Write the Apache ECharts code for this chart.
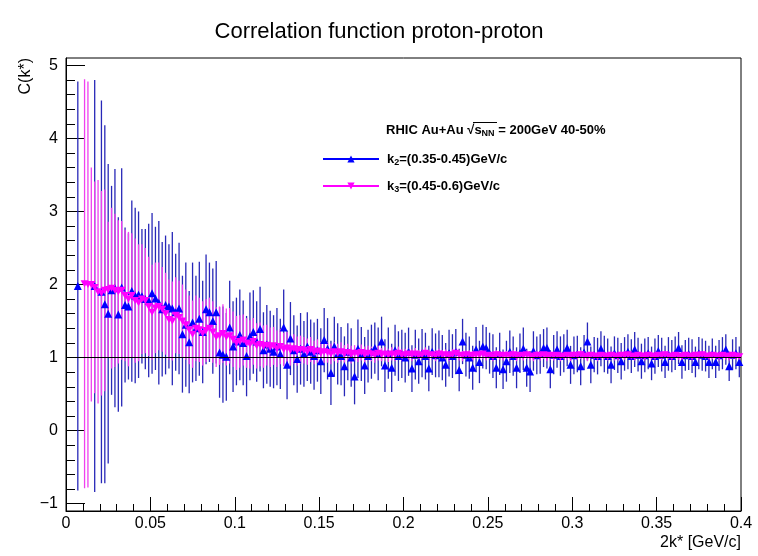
<!DOCTYPE html>
<html><head><meta charset="utf-8">
<script src="https://cdn.jsdelivr.net/npm/echarts@6/dist/echarts.min.js"></script>
<style>html,body{margin:0;padding:0;background:#fff}#c{width:758px;height:556px}</style>
</head><body><div id="c"></div>
<script>
// Histogram binning: 200 bins of width 0.002 from 0 to 0.4
const binWidth = 0.002;
const nBins = 200;

// k2 = (0.35-0.45) GeV/c : bin contents (null = empty bin)
const k2Val = [
  null,null,null,1.98,null,null,null,null,1.98,null,
  1.90,1.73,1.60,1.92,1.95,1.59,1.96,1.72,1.70,1.91,
  1.85,1.86,1.84,1.80,1.78,1.88,1.81,1.75,1.66,1.72,
  1.70,1.67,1.62,1.67,1.32,1.45,1.21,1.48,1.40,1.53,
  1.35,1.66,1.62,1.50,1.62,1.07,1.04,1.01,1.41,1.15,
  1.22,1.31,1.20,1.02,1.29,1.35,1.22,1.39,1.10,1.18,
  1.12,1.08,1.15,1.05,1.41,0.90,1.26,1.10,0.98,1.12,
  1.05,1.15,1.08,1.02,1.10,0.95,1.24,1.12,0.79,1.15,
  1.05,1.02,0.88,1.08,1.00,0.74,1.12,1.05,0.89,1.02,
  1.08,1.13,1.05,1.22,0.89,1.06,0.86,1.10,1.02,1.05,
  1.00,1.08,0.85,1.04,0.95,1.06,1.02,0.85,1.08,1.03,
  1.05,1.00,0.90,1.06,1.02,1.08,0.83,1.22,1.04,1.00,
  0.86,1.11,0.94,1.15,1.13,1.06,1.02,0.86,1.05,0.84,
  0.95,1.08,1.02,0.86,1.06,1.12,0.86,0.81,1.09,1.03,
  1.05,1.13,1.13,0.84,1.04,1.11,1.02,1.06,1.13,0.90,
  1.03,1.05,0.88,1.07,1.22,0.90,1.04,1.02,1.12,1.05,
  1.02,0.90,1.06,1.03,0.95,1.05,1.08,1.02,1.11,1.04,
  0.95,1.03,1.06,0.92,1.02,1.09,1.04,0.94,1.05,1.02,
  1.06,1.13,0.94,1.03,1.05,1.02,0.94,1.06,1.04,1.02,
  0.94,1.05,0.94,1.03,1.06,1.11,0.88,1.04,1.06,0.94
];
const k2Err = [
  null,null,null,2.80,null,null,null,null,2.82,null,
  2.62,2.45,2.05,1.43,1.63,1.33,1.63,1.06,1.00,1.24,
  1.20,1.14,0.92,0.96,1.05,1.10,0.98,1.12,0.92,0.95,
  0.85,1.05,0.80,0.90,0.80,0.85,0.70,0.82,0.72,0.78,
  0.70,0.75,0.68,0.72,0.70,0.62,0.66,0.60,0.64,0.62,
  0.60,0.62,0.58,0.55,0.60,0.57,0.55,0.58,0.52,0.54,
  0.52,0.50,0.53,0.48,0.52,0.47,0.50,0.48,0.46,0.49,
  0.45,0.47,0.44,0.46,0.43,0.45,0.44,0.42,0.44,0.41,
  0.42,0.40,0.41,0.39,0.40,0.38,0.40,0.37,0.39,0.36,
  0.37,0.35,0.36,0.34,0.36,0.35,0.33,0.35,0.34,0.33,
  0.34,0.33,0.32,0.34,0.31,0.33,0.32,0.31,0.32,0.30,
  0.32,0.31,0.30,0.32,0.30,0.31,0.29,0.31,0.30,0.29,
  0.30,0.31,0.29,0.30,0.29,0.28,0.30,0.28,0.29,0.27,
  0.28,0.29,0.27,0.28,0.27,0.29,0.26,0.28,0.27,0.26,
  0.27,0.26,0.28,0.26,0.27,0.25,0.27,0.26,0.25,0.26,
  0.26,0.25,0.26,0.24,0.26,0.25,0.24,0.25,0.24,0.25,
  0.24,0.25,0.23,0.24,0.25,0.23,0.24,0.23,0.24,0.23,
  0.24,0.23,0.22,0.23,0.24,0.22,0.23,0.22,0.23,0.22,
  0.23,0.22,0.23,0.21,0.22,0.23,0.21,0.22,0.22,0.21,
  0.22,0.21,0.22,0.21,0.22,0.21,0.20,0.21,0.22,0.21
];

// k3 = (0.45-0.6) GeV/c
const k3Val = [
  null,null,null,null,null,2.01,2.00,2.00,1.96,1.90,
  1.88,1.92,1.93,1.95,1.92,1.90,1.92,1.85,1.80,1.85,
  1.78,1.75,1.80,1.78,1.70,1.62,1.68,1.70,1.66,1.60,
  1.52,1.50,1.58,1.55,1.50,1.45,1.38,1.32,1.40,1.38,
  1.33,1.37,1.40,1.35,1.28,1.30,1.33,1.28,1.30,1.25,
  1.20,1.22,1.24,1.20,1.18,1.22,1.16,1.18,1.15,1.17,
  1.14,1.16,1.12,1.15,1.11,1.13,1.10,1.12,1.09,1.11,
  1.10,1.08,1.11,1.07,1.09,1.06,1.08,1.07,1.05,1.08,
  1.06,1.08,1.05,1.07,1.04,1.06,1.05,1.07,1.04,1.06,
  1.05,1.03,1.06,1.04,1.05,1.03,1.05,1.04,1.06,1.03,
  1.04,1.05,1.03,1.05,1.02,1.04,1.06,1.03,1.04,1.02,
  1.05,1.03,1.04,1.02,1.04,1.06,1.03,1.02,1.04,1.03,
  1.02,1.04,1.03,1.05,1.02,1.03,1.01,1.04,1.03,1.02,
  1.03,1.02,1.04,1.01,1.03,1.02,1.04,1.02,1.01,1.03,
  1.02,1.04,1.01,1.03,1.02,1.03,1.01,1.02,1.03,1.01,
  1.03,1.02,1.04,1.02,1.01,1.03,1.02,1.01,1.03,1.02,
  1.01,1.03,1.02,1.01,1.03,1.02,1.04,1.02,1.01,1.03,
  1.02,1.01,1.03,1.02,1.01,1.03,1.02,1.04,1.02,1.01,
  1.03,1.02,1.01,1.03,1.02,1.01,1.03,1.02,1.04,1.02,
  1.01,1.03,1.02,1.01,1.03,1.02,1.01,1.03,1.02,1.01
];
const k3Err = [
  null,null,null,null,null,2.80,2.78,1.60,1.45,1.53,
  1.40,1.38,0.93,1.10,1.05,0.98,0.95,0.90,0.92,0.85,
  0.85,0.80,0.75,0.72,0.68,0.65,0.62,0.60,0.58,0.56,
  0.55,0.54,0.52,0.50,0.50,0.48,0.47,0.46,0.45,0.44,
  0.44,0.43,0.42,0.42,0.41,0.40,0.40,0.39,0.38,0.38,
  0.37,0.36,0.35,0.34,0.33,0.32,0.31,0.30,0.29,0.28,
  0.27,0.26,0.25,0.24,0.23,0.22,0.21,0.20,0.20,0.19,
  0.18,0.18,0.17,0.16,0.16,0.15,0.15,0.14,0.14,0.13,
  0.13,0.13,0.12,0.12,0.12,0.11,0.11,0.11,0.11,0.10,
  0.10,0.10,0.10,0.09,0.09,0.09,0.09,0.09,0.09,0.08,
  0.08,0.08,0.08,0.08,0.08,0.07,0.08,0.07,0.07,0.07,
  0.07,0.07,0.07,0.07,0.07,0.07,0.07,0.07,0.06,0.07,
  0.07,0.06,0.06,0.07,0.06,0.06,0.06,0.06,0.06,0.06,
  0.06,0.06,0.06,0.06,0.06,0.06,0.06,0.06,0.06,0.06,
  0.06,0.06,0.06,0.06,0.06,0.06,0.06,0.05,0.06,0.06,
  0.06,0.05,0.06,0.05,0.06,0.05,0.05,0.06,0.05,0.05,
  0.05,0.05,0.06,0.05,0.05,0.05,0.05,0.05,0.05,0.05,
  0.05,0.05,0.05,0.05,0.05,0.05,0.05,0.05,0.05,0.05,
  0.05,0.05,0.05,0.05,0.05,0.05,0.05,0.05,0.05,0.05,
  0.05,0.05,0.05,0.05,0.05,0.05,0.05,0.05,0.05,0.05
];

// Axis ticks
const xTickStep = 0.05;
const yMajorTicks = [-1, 0, 1, 2, 3, 4, 5];
const yMinorTicks = [-0.8,-0.6,-0.4,-0.2,0.2,0.4,0.6,0.8,1.2,1.4,1.6,1.8,2.2,2.4,2.6,2.8,
                     3.2,3.4,3.6,3.8,4.2,4.4,4.6,4.8];

const titleText = 'Correlation function proton-proton';
const legendNames = ['k2', 'k3'];

function buildData(vals, errs) {
  const out = [];
  for (let i = 0; i < nBins; i++) {
    if (vals[i] === null) continue;
    out.push([(i + 0.5) * binWidth, vals[i], errs[i]]);
  }
  return out;
}
const k2Data = buildData(k2Val, k2Err);
const k3Data = buildData(k3Val, k3Err);

function barRenderer(color) {
  return function (params, api) {
    const x = api.value(0), y = api.value(1), e = api.value(2);
    const p1 = api.coord([x, y + e]);
    const p2 = api.coord([x, y - e]);
    return {
      type: 'line',
      shape: { x1: p1[0], y1: p1[1], x2: p2[0], y2: p2[1] },
      style: { stroke: color, lineWidth: 1.3 }
    };
  };
}

const FONT = 'Liberation Sans, Arial, Helvetica, sans-serif';
const BLUE = '#0000ff', BLUE_BAR = '#2828b8';
const PINK = '#ff00ff', PINK_BAR = '#f040f0';
const DOWN_TRI = 'path://M0 0L10 0L5 9Z';

const richStyles = {
  b: { fontFamily: FONT, fontWeight: 'bold', fontSize: 13, color: '#000', lineHeight: 16 },
  s: { fontFamily: FONT, fontWeight: 'bold', fontSize: 9, color: '#000', lineHeight: 9, verticalAlign: 'bottom', padding: [6, 0, 0, 0] },
  g: { width: 3 }
};

const chart = echarts.init(document.getElementById('c'), null, { renderer: 'canvas' });
chart.setOption({
  animation: false,
  backgroundColor: '#fff',
  title: {
    text: titleText, left: 374, top: 16, textAlign: 'center',
    textStyle: { fontFamily: FONT, fontSize: 22, fontWeight: 'normal', color: '#000' }
  },
  grid: { left: 66, right: 17, top: 58, bottom: 45, show: true, borderColor: '#000', borderWidth: 1, backgroundColor: 'transparent' },
  xAxis: {
    type: 'value', min: 0, max: 0.4, interval: xTickStep,
    axisLine: { show: true, onZero: false, lineStyle: { color: '#000', width: 1 } },
    axisTick: { show: true, inside: true, length: 14, lineStyle: { color: '#000' } },
    minorTick: { show: true, splitNumber: 5, length: 7, lineStyle: { color: '#000' } },
    splitLine: { show: false },
    axisLabel: {
      color: '#000', fontFamily: FONT, fontSize: 16, margin: 5,
      formatter: v => (Math.round(v * 100) / 100).toString()
    }
  },
  yAxis: [{
    type: 'value', min: -1.1, max: 5.1,
    axisLine: { show: true, onZero: false, lineStyle: { color: '#000', width: 1 } },
    axisTick: { show: true, inside: true, length: 19, customValues: yMajorTicks, lineStyle: { color: '#000' } },
    splitLine: { show: false },
    axisLabel: {
      customValues: yMajorTicks,
      color: '#000', fontFamily: FONT, fontSize: 16, margin: 8,
      formatter: v => v < 0 ? '\u2212' + (-v) : String(v)
    }
  }, {
    type: 'value', min: -1.1, max: 5.1, position: 'left',
    axisLine: { show: false, onZero: false },
    axisTick: { show: true, inside: true, length: 9, customValues: yMinorTicks, lineStyle: { color: '#000' } },
    axisLabel: { show: false },
    splitLine: { show: false }
  }],
  legend: {
    data: legendNames, orient: 'vertical', left: 317, top: 147,
    itemWidth: 56, itemHeight: 9, itemGap: 12,
    formatter: name => name === 'k2'
      ? '{g|}{b|k}{s|2}{b|=(0.35-0.45)GeV/c}'
      : '{g|}{b|k}{s|3}{b|=(0.45-0.6)GeV/c}',
    textStyle: { rich: richStyles }
  },
  graphic: [
    {
      type: 'text', x: 386, y: 130,
      style: {
        text: '{b|RHIC Au+Au }{b|\u221A}{b|s}{s|NN}{b| = 200GeV 40-50%}',
        rich: richStyles, verticalAlign: 'middle', align: 'left'
      }
    },
    {
      type: 'line', shape: { x1: 473, y1: 122.5, x2: 497, y2: 122.5 },
      style: { stroke: '#000', lineWidth: 1 }
    },
    {
      type: 'text', x: 26, y: 58, rotation: Math.PI / 2,
      style: { text: 'C(k*)', fontFamily: FONT, fontSize: 16, fill: '#000', align: 'right', verticalAlign: 'middle' }
    },
    {
      type: 'text', x: 741, y: 543,
      style: { text: '2k* [GeV/c]', fontFamily: FONT, fontSize: 16, fill: '#000', align: 'right', verticalAlign: 'middle' }
    }
  ],
  series: [
    { name: 'k2bars', type: 'custom', renderItem: barRenderer(BLUE_BAR), data: k2Data, encode: { x: 0, y: 1 }, clip: true, z: 2, silent: true },
    { name: 'k3bars', type: 'custom', renderItem: barRenderer(PINK_BAR), data: k3Data, encode: { x: 0, y: 1 }, clip: true, z: 3, silent: true },
    { name: 'k2pts', type: 'scatter', data: k2Data.map(d => [d[0], d[1]]), symbol: 'triangle', symbolSize: 8, itemStyle: { color: BLUE, opacity: 1 }, z: 4, silent: true },
    { name: 'k3pts', type: 'scatter', data: k3Data.map(d => [d[0], d[1]]), symbol: DOWN_TRI, symbolSize: [8, 7], itemStyle: { color: PINK, opacity: 1 }, z: 5, silent: true,
      markLine: { silent: true, symbol: 'none', label: { show: false }, lineStyle: { color: '#000', type: 'solid', width: 1 }, data: [{ yAxis: 1 }], z: 10 } },
    { name: 'k2', type: 'line', data: [], symbol: 'triangle', symbolSize: 8, itemStyle: { color: BLUE }, lineStyle: { color: BLUE, width: 1 } },
    { name: 'k3', type: 'line', data: [], symbol: DOWN_TRI, symbolSize: 8, itemStyle: { color: PINK }, lineStyle: { color: PINK, width: 1 } }
  ]
});
</script>
</body></html>
